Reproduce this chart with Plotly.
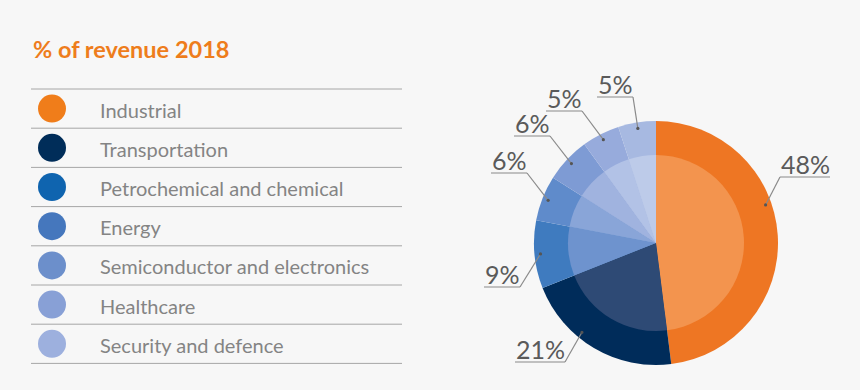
import math
import plotly.graph_objects as go

# ---------------- data ----------------
CATEGORIES = ["Industrial", "Transportation", "Petrochemical and chemical", "Energy",
              "Semiconductor and electronics", "Healthcare", "Security and defence"]
SHARES = [48, 21, 9, 6, 6, 5, 5]
SHARE_LABELS = [f"{v}%" for v in SHARES]
TITLE = "% of revenue 2018"

# ---------------- style ----------------
LEGEND_COLORS = ["#F07D1A", "#002D59", "#0F64AF", "#4577BD", "#6C8FCB", "#88A0D6", "#9DB0DE"]
OUTER_COLORS = ["#EE7623", "#002C5A", "#3F7BBF", "#5F8BCB", "#7E9BD4", "#97ABDC", "#A7B9E1"]
INNER_COLORS = ["#F3944E", "#2E4A75", "#6E93CE", "#89A5D8", "#A0B3DF", "#B2C2E6", "#BDCBE9"]
BG = "#F7F7F7"
FONT = "Lato"

W, H = 860, 390
PIE_CX, PIE_CY, PIE_R, PIE_R_IN = 656, 243, 122, 88
DOT_R = 116
LEG_X0, LEG_X1, ROW_TOP, ROW_H = 31, 402, 89, 39.2
CIRCLE_X, TEXT_X = 52, 98
# underline centre (x, y) for each percentage label, in pixels
LABEL_ANCHORS = [(805, 177), (540, 362), (502, 287), (509, 173), (532, 136), (564, 111), (615, 97)]
# where, within each slice (0 = start, 1 = end), the leader line touches it
LEADER_FRAC = [0.41, 0.62, 0.5, 0.5, 0.5, 0.5, 0.5]


def pie_domain(r):
    return dict(x=[(PIE_CX - r) / W, (PIE_CX + r) / W],
                y=[(H - PIE_CY - r) / H, (H - PIE_CY + r) / H])


fig = go.Figure()

fig.add_trace(go.Pie(values=SHARES, labels=CATEGORIES, sort=False, direction="clockwise",
                     rotation=0, textinfo="none", hoverinfo="label+percent",
                     marker=dict(colors=OUTER_COLORS, line=dict(width=0)),
                     domain=pie_domain(PIE_R), showlegend=False))
fig.add_trace(go.Pie(values=SHARES, labels=CATEGORIES, sort=False, direction="clockwise",
                     rotation=0, textinfo="none", hoverinfo="label+percent",
                     marker=dict(colors=INNER_COLORS, line=dict(width=0)),
                     domain=pie_domain(PIE_R_IN), showlegend=False))

# legend markers (pixel-coordinate axes)
row_y = [ROW_TOP + ROW_H * (i + 0.5) for i in range(len(CATEGORIES))]
fig.add_trace(go.Scatter(x=[CIRCLE_X] * len(CATEGORIES), y=row_y, mode="markers",
                         marker=dict(size=28, color=LEGEND_COLORS, line=dict(width=0)),
                         hovertext=CATEGORIES, hoverinfo="text", showlegend=False))

shapes = []
annotations = []

# legend separator lines
for i in range(len(CATEGORIES) + 1):
    y = ROW_TOP + ROW_H * i
    shapes.append(dict(type="line", xref="x", yref="y", x0=LEG_X0, x1=LEG_X1, y0=y, y1=y,
                       line=dict(color="#A6A6A6", width=1)))
for name, y in zip(CATEGORIES, row_y):
    annotations.append(dict(xref="x", yref="y", x=TEXT_X, y=y + 1, text=name, showarrow=False,
                            xanchor="left", yanchor="middle",
                            font=dict(family=FONT, size=20, color="#848484")))

# title
annotations.append(dict(xref="x", yref="y", x=LEG_X0, y=49, text=f"<b>{TITLE}</b>",
                        showarrow=False, xanchor="left", yanchor="middle",
                        font=dict(family=FONT, size=23.5, color="#EE7D1C")))

# percentage labels with leader lines
total = sum(SHARES)
cum = 0
for v, lab, (lx, ly), fr in zip(SHARES, SHARE_LABELS, LABEL_ANCHORS, LEADER_FRAC):
    pos = (cum + v * fr) / total
    cum += v
    th = 2 * math.pi * pos
    dx = PIE_CX + DOT_R * math.sin(th)
    dy = PIE_CY - DOT_R * math.cos(th)
    half = 25 if len(lab) > 2 else 18
    x0, x1 = lx - half, lx + half
    end = x0 if lx > PIE_CX else x1
    shapes.append(dict(type="line", xref="x", yref="y", x0=x0, x1=x1, y0=ly, y1=ly,
                       line=dict(color="#8A8A8A", width=1.2)))
    shapes.append(dict(type="line", xref="x", yref="y", x0=dx, y0=dy, x1=end, y1=ly,
                       line=dict(color="#8A8A8A", width=1.2)))
    shapes.append(dict(type="circle", xref="x", yref="y", x0=dx - 1.6, x1=dx + 1.6,
                       y0=dy - 1.6, y1=dy + 1.6, fillcolor="#555555", line=dict(width=0)))
    annotations.append(dict(xref="x", yref="y", x=lx, y=ly + 4, text=lab, showarrow=False,
                            xanchor="center", yanchor="bottom",
                            font=dict(family=FONT, size=25, color="#5A5A5A")))

fig.update_layout(
    width=W, height=H, margin=dict(l=0, r=0, t=0, b=0),
    paper_bgcolor=BG, plot_bgcolor="rgba(0,0,0,0)",
    xaxis=dict(range=[0, W], domain=[0, 1], visible=False, fixedrange=True),
    yaxis=dict(range=[H, 0], domain=[0, 1], visible=False, fixedrange=True),
    shapes=shapes, annotations=annotations, showlegend=False,
)

fig.write_html("out.html", config={"displayModeBar": False},
               post_script="document.body.style.margin='0';document.body.style.background='#F7F7F7';")
